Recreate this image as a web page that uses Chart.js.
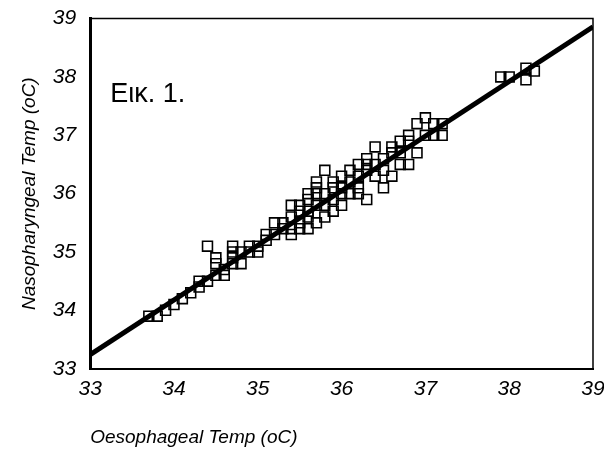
<!DOCTYPE html>
<html>
<head>
<meta charset="utf-8">
<script src="https://cdn.jsdelivr.net/npm/chart.js@4"></script>
<style>
  body { margin: 0; background: #fff; }
</style>
</head>
<body>
<canvas id="ourChart" width="604" height="450"></canvas>
<script>
// Oesophageal temp (x) vs nasopharyngeal temp (y)
const oesoTemp = [
  33.7, 33.8, 33.9, 34.0, 34.1, 34.2, 34.3, 34.3, 34.4, 34.4,
  34.5, 34.5, 34.5, 34.6, 34.6, 34.7, 34.7, 34.7, 34.7, 34.8,
  34.8, 34.9, 34.9, 35.0, 35.0, 35.1, 35.1, 35.2, 35.2, 35.3,
  35.3, 35.4, 35.4, 35.4, 35.4, 35.5, 35.5, 35.5, 35.5, 35.6,
  35.6, 35.6, 35.6, 35.6, 35.7, 35.7, 35.7, 35.7, 35.7, 35.8,
  35.8, 35.8, 35.8, 35.9, 35.9, 35.9, 35.9, 36.0, 36.0, 36.0,
  36.0, 36.1, 36.1, 36.1, 36.2, 36.2, 36.2, 36.2, 36.3, 36.3,
  36.3, 36.3, 36.4, 36.4, 36.4, 36.5, 36.5, 36.5, 36.6, 36.6,
  36.6, 36.7, 36.7, 36.7, 36.8, 36.8, 36.8, 36.9, 36.9, 37.0,
  37.0, 37.1, 37.1, 37.2, 37.2, 37.9, 38.0, 38.2, 38.2, 38.3
];
const nasoTemp = [
  33.9, 33.9, 34.0, 34.1, 34.2, 34.3, 34.4, 34.5, 34.5, 35.1,
  34.6, 34.8, 34.9, 34.6, 34.7, 34.8, 34.9, 35.0, 35.1, 34.8,
  35.0, 35.0, 35.1, 35.0, 35.1, 35.2, 35.3, 35.3, 35.5, 35.5,
  35.4, 35.4, 35.3, 35.6, 35.8, 35.5, 35.7, 35.8, 35.4, 35.6,
  35.9, 36.0, 35.4, 35.7, 35.5, 35.8, 36.0, 36.1, 36.2, 35.6,
  35.8, 36.0, 36.4, 35.7, 35.9, 36.1, 36.2, 35.8, 36.0, 36.1,
  36.3, 36.0, 36.2, 36.4, 36.1, 36.3, 36.5, 36.0, 35.9, 36.4,
  36.5, 36.6, 36.3, 36.5, 36.8, 36.4, 36.6, 36.1, 36.3, 36.7,
  36.8, 36.5, 36.7, 36.9, 36.5, 36.9, 37.0, 36.7, 37.2, 37.0,
  37.3, 37.0, 37.2, 37.0, 37.2, 38.0, 38.0, 37.95, 38.15, 38.1
];
// regression line end points
const fitX = [33, 39];
const fitY = [33.24, 38.86];
const axisTicks = [33, 34, 35, 36, 37, 38, 39];

const points = oesoTemp.map((v, i) => ({ x: v, y: nasoTemp[i] }));
const fitLine = fitX.map((v, i) => ({ x: v, y: fitY[i] }));

const tickFont = { family: 'Liberation Sans, Arial', size: 21, style: 'italic' };
const titleFont = { family: 'Liberation Sans, Arial', size: 19, style: 'italic' };

// box frame + figure label
const framePlugin = {
    id: 'frame',
    afterDraw(chart) {
        const ctx = chart.ctx;
        const a = chart.chartArea;
        ctx.save();
        ctx.strokeStyle = '#000';
        ctx.lineWidth = 1.5;
        ctx.beginPath();
        ctx.moveTo(a.left, a.top);
        ctx.lineTo(a.right, a.top);
        ctx.lineTo(a.right, a.bottom);
        ctx.stroke();
        ctx.fillStyle = '#000';
        ctx.font = '27px Liberation Sans, Arial';
        ctx.textBaseline = 'middle';
        ctx.fillText('Εικ. 1.', chart.scales.x.getPixelForValue(33.24), chart.scales.y.getPixelForValue(37.7));
        ctx.restore();
    }
};

const ourCanvas = document.getElementById('ourChart');

const chartElement = new Chart(ourCanvas, {
    type: 'scatter',
    data: {
        datasets: [
            {
                data: points,
                pointStyle: 'rect',
                pointRadius: 7,
                borderColor: '#000',
                borderWidth: 1.6,
                backgroundColor: 'rgba(0,0,0,0)'
            },
            {
                type: 'line',
                data: fitLine,
                borderColor: '#000',
                borderWidth: 5,
                pointRadius: 0,
                fill: false
            }
        ]
    },
    options: {
        responsive: false,
        animation: { duration: 0 },
        layout: { padding: { left: 14, right: 0, top: 16, bottom: 0 } },
        plugins: {
            legend: { display: false },
            tooltip: { enabled: false }
        },
        scales: {
            x: {
                type: 'linear',
                min: 33,
                max: 39,
                afterBuildTicks: (s) => { s.ticks = axisTicks.map(v => ({ value: v })); },
                afterFit: (s) => { s.paddingRight = 11; },
                grid: { display: false, drawTicks: true, tickLength: 4 },
                border: { display: true, color: '#000', width: 2 },
                ticks: { color: '#000', font: tickFont, padding: 4, maxRotation: 0 },
                title: {
                    display: true,
                    text: 'Oesophageal Temp (oC)',
                    align: 'start',
                    color: '#000',
                    font: { ...titleFont, lineHeight: 0.9 },
                    padding: { top: 23 }
                }
            },
            y: {
                type: 'linear',
                min: 33,
                max: 39,
                afterBuildTicks: (s) => { s.ticks = axisTicks.map(v => ({ value: v })); },
                grid: { display: false },
                border: { display: true, color: '#000', width: 3 },
                ticks: { color: '#000', font: tickFont, padding: 6 },
                title: {
                    display: true,
                    text: 'Nasopharyngeal Temp (oC)',
                    color: '#000',
                    font: titleFont,
                    padding: { bottom: 6 }
                }
            }
        }
    },
    plugins: [framePlugin]
});
</script>
</body>
</html>
